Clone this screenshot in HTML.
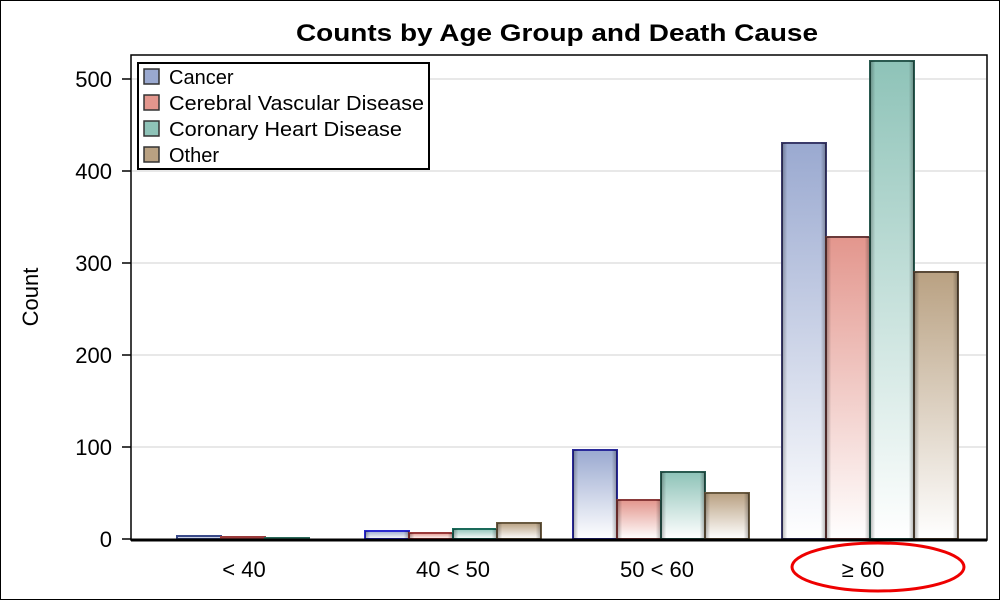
<!DOCTYPE html>
<html><head><style>body{margin:0;background:#fff}svg{display:block}</style></head><body>
<svg width="1000" height="600" xmlns="http://www.w3.org/2000/svg" font-family="Liberation Sans, Arial, sans-serif">
<defs>
<linearGradient id="g1" x1="0" y1="0" x2="0" y2="1"><stop offset="0" stop-color="#9aa9d0"/><stop offset="1" stop-color="#ffffff"/></linearGradient>
<linearGradient id="g2" x1="0" y1="0" x2="0" y2="1"><stop offset="0" stop-color="#e3968d"/><stop offset="1" stop-color="#ffffff"/></linearGradient>
<linearGradient id="g3" x1="0" y1="0" x2="0" y2="1"><stop offset="0" stop-color="#8ec3b8"/><stop offset="1" stop-color="#ffffff"/></linearGradient>
<linearGradient id="g4" x1="0" y1="0" x2="0" y2="1"><stop offset="0" stop-color="#b9a182"/><stop offset="1" stop-color="#ffffff"/></linearGradient>
<linearGradient id="sh" x1="0" y1="0" x2="1" y2="0"><stop offset="0" stop-color="#000" stop-opacity="0.3"/><stop offset="0.12" stop-color="#000" stop-opacity="0"/><stop offset="0.88" stop-color="#000" stop-opacity="0"/><stop offset="1" stop-color="#000" stop-opacity="0.3"/></linearGradient>
</defs>
<rect x="0.5" y="0.5" width="999" height="599" fill="#fff" stroke="#000"/>
<text x="557" y="41" font-size="24" font-weight="bold" text-anchor="middle" textLength="522" lengthAdjust="spacingAndGlyphs">Counts by Age Group and Death Cause</text>
<rect x="131" y="55" width="856" height="485" fill="none" stroke="#000" stroke-width="1.5"/>
<g stroke="#e0e0e0" stroke-width="1.5">
<line x1="132" x2="986" y1="447" y2="447"/><line x1="132" x2="986" y1="355" y2="355"/><line x1="132" x2="986" y1="263" y2="263"/><line x1="132" x2="986" y1="171" y2="171"/><line x1="132" x2="986" y1="79" y2="79"/>
</g>
<g stroke="#000" stroke-width="1.5">
<line x1="122" x2="131" y1="539" y2="539"/><line x1="122" x2="131" y1="447" y2="447"/><line x1="122" x2="131" y1="355" y2="355"/><line x1="122" x2="131" y1="263" y2="263"/><line x1="122" x2="131" y1="171" y2="171"/><line x1="122" x2="131" y1="79" y2="79"/>
</g>
<g font-size="22" text-anchor="end">
<text x="112" y="547">0</text><text x="112" y="455">100</text><text x="112" y="363">200</text><text x="112" y="271">300</text><text x="112" y="179">400</text><text x="112" y="87">500</text>
</g>
<text transform="translate(38,297) rotate(-90)" font-size="22" text-anchor="middle">Count</text>
<g stroke-width="2">
<rect x="177" y="536" width="44" height="3" fill="url(#g1)" stroke="#3a4a8a"/>
<rect x="221" y="537" width="44" height="2" fill="url(#g2)" stroke="#9a3a3a"/>
<rect x="265" y="538" width="44" height="1" fill="url(#g3)" stroke="#2a6a5a"/>
<rect x="365" y="531" width="44" height="8" fill="url(#g1)" stroke="#2a2ad0"/>
<rect x="409" y="533" width="44" height="6" fill="url(#g2)" stroke="#9a3a3a"/>
<rect x="453" y="529" width="44" height="10" fill="url(#g3)" stroke="#1a6a5a"/>
<rect x="497" y="523" width="44" height="16" fill="url(#g4)" stroke="#6a5a40"/>
<rect x="573" y="450" width="44" height="89" fill="url(#g1)" stroke="#2a2a9a"/>
<rect x="617" y="500" width="44" height="39" fill="url(#g2)" stroke="#8a3a3a"/>
<rect x="661" y="472" width="44" height="67" fill="url(#g3)" stroke="#2a5a50"/>
<rect x="705" y="493" width="44" height="46" fill="url(#g4)" stroke="#6a5a40"/>
<rect x="782" y="143" width="44" height="396" fill="url(#g1)" stroke="#3a3a6a"/>
<rect x="826" y="237" width="44" height="302" fill="url(#g2)" stroke="#6a3a3a"/>
<rect x="870" y="61" width="44" height="478" fill="url(#g3)" stroke="#2a5a50"/>
<rect x="914" y="272" width="44" height="267" fill="url(#g4)" stroke="#5a4a38"/>
</g>
<g fill="url(#sh)">
<rect x="573" y="450" width="44" height="89"/><rect x="617" y="500" width="44" height="39"/><rect x="661" y="472" width="44" height="67"/><rect x="705" y="493" width="44" height="46"/>
<rect x="782" y="143" width="44" height="396"/><rect x="826" y="237" width="44" height="302"/><rect x="870" y="61" width="44" height="478"/><rect x="914" y="272" width="44" height="267"/>
<rect x="365" y="531" width="44" height="8"/><rect x="409" y="533" width="44" height="6"/><rect x="453" y="529" width="44" height="10"/><rect x="497" y="523" width="44" height="16"/>
</g>
<line x1="131" x2="987" y1="540" y2="540" stroke="#000" stroke-width="3"/>
<g font-size="22" text-anchor="middle">
<text x="244" y="577">&lt; 40</text><text x="453" y="577">40 &lt; 50</text><text x="657" y="577">50 &lt; 60</text><text x="863" y="577">≥ 60</text>
</g>
<ellipse cx="878" cy="567" rx="86" ry="24" fill="none" stroke="#e00" stroke-width="3"/>
<rect x="138" y="63" width="291" height="106" fill="#fff" stroke="#000" stroke-width="2"/>
<g stroke="#333" stroke-width="1.5">
<rect x="144" y="69" width="15" height="15" fill="#9aa9d0"/>
<rect x="144" y="95" width="15" height="15" fill="#e3968d"/>
<rect x="144" y="121" width="15" height="15" fill="#8ec3b8"/>
<rect x="144" y="147" width="15" height="15" fill="#b9a182"/>
</g>
<g font-size="20">
<text x="169" y="84">Cancer</text><text x="169" y="110" textLength="255" lengthAdjust="spacingAndGlyphs">Cerebral Vascular Disease</text><text x="169" y="136" textLength="233" lengthAdjust="spacingAndGlyphs">Coronary Heart Disease</text><text x="169" y="162">Other</text>
</g>
</svg>
</body></html>
